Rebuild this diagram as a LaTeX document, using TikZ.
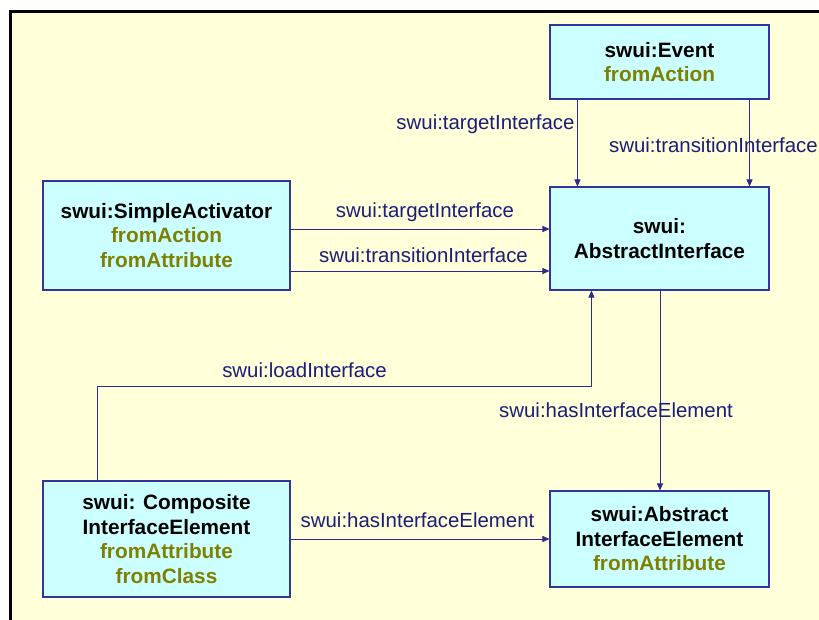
\documentclass[tikz,border=0pt]{standalone}
\usepackage{fontspec}
\setmainfont{Liberation Sans}
\usetikzlibrary{arrows.meta,shadows}

\definecolor{paper}{HTML}{FFFFD9}
\definecolor{boxfill}{HTML}{CCFFFF}
\definecolor{boxline}{HTML}{333399}
\definecolor{attr}{HTML}{808000}
\definecolor{lbl}{HTML}{1C1C7C}
\definecolor{wire}{HTML}{2A2A90}

\tikzset{
  cls/.style={draw=boxline, line width=1.1pt, fill=boxfill, align=center,
    inner sep=0pt, font=\fontsize{20.8}{24.5}\selectfont\bfseries,
    drop shadow={shadow xshift=1.2pt, shadow yshift=-1.2pt, fill=black!35, opacity=1}},
  rel/.style={draw=wire, line width=0.9pt, -{Triangle[length=7pt,width=6pt]}},
  lab/.style={text=lbl, inner sep=0pt, font=\fontsize{20.4}{24}\selectfont},
}
\newcommand{\from}[1]{\textcolor{attr}{#1}}

\begin{document}
\begin{tikzpicture}[x=1pt, y=-1pt]
  \useasboundingbox (0,0) rectangle (819,619);
  % page frame
  \fill[white] (0,0) rectangle (819,619);
  \fill[paper] (12,13) rectangle (830,630);
  \draw[black, line width=3pt] (10.5,640) -- (10.5,11.5) -- (840,11.5);

  % classes
  \node[cls, minimum width=219pt, minimum height=74pt] (ev) at (659.5,62)
    {swui:Event\\ \from{fromAction}};
  \node[cls, minimum width=219pt, minimum height=103pt] (ai) at (659.5,238.5)
    {swui:\\ AbstractInterface};
  \node[cls, minimum width=247pt, minimum height=109pt] (sa) at (166.5,235.5)
    {swui:SimpleActivator\\ \from{fromAction}\\ \from{fromAttribute}};
  \node[cls, minimum width=247pt, minimum height=116pt] (ci) at (166.5,539)
    {swui: Composite\\ InterfaceElement\\ \from{fromAttribute}\\ \from{fromClass}};
  \node[cls, minimum width=219pt, minimum height=96pt] (aie) at (659.5,539)
    {swui:Abstract\\ InterfaceElement\\ \from{fromAttribute}};

  % relations
  \draw[rel] ([xshift=28pt]ev.south west) -- ([xshift=28pt]ai.north west);
  \draw[rel] ([xshift=-20pt]ev.south east) -- ([xshift=-20pt]ai.north east);
  \draw[rel] ([yshift=6.5pt]sa.east) -- ([yshift=6.5pt]sa.east -| ai.west);
  \draw[rel] ([yshift=-35.5pt]sa.east) -- ([yshift=-35.5pt]sa.east -| ai.west);
  \draw[rel] ([xshift=55pt]ci.north west) -- ++(0,-94) -| ([xshift=42pt]ai.south west);
  \draw[rel] ([xshift=0.5pt]ai.south) -- ([xshift=0.5pt]aie.north);
  \draw[rel] (ci.east) -- (ci.east -| aie.west);

  % relation names
  \node[lab] (l1) at (485.5,124) {swui:targetInterface};
  \node[lab, anchor=east] (l2) at (818,145) {swui:transitionInterface};
  \node[lab] (l3) at (425,212) {swui:targetInterface};
  \node[lab] (l4) at (423.5,255) {swui:transitionInterface};
  \node[lab] (l5) at (304.5,370) {swui:loadInterface};
  \node[lab] (l6) at (616,410) {swui:hasInterfaceElement};
  \node[lab] (l7) at (417.5,520) {swui:hasInterfaceElement};
\end{tikzpicture}
\end{document}
